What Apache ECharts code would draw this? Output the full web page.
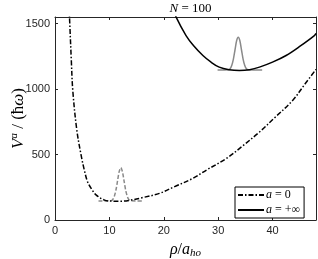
<!DOCTYPE html>
<html><head><meta charset="utf-8">
<script src="https://cdn.jsdelivr.net/npm/echarts@6/dist/echarts.min.js"></script>
<style>html,body{margin:0;padding:0;background:#fff}#c{width:318px;height:259px}</style>
</head><body><div id="c"></div>
<script>
// a = 0 curve (dash-dot)
const rho0 = [2.5, 2.67, 3.0, 3.27, 4.0, 4.8, 5.4, 6.0, 6.8, 7.6, 9.1, 10.5, 12.0, 13.7, 16.0, 19.2, 22.0, 25.3, 28.0, 31.5, 34.5, 37.6, 40.5, 43.7, 46.0, 48.0];
const V0   = [1700, 1545, 1220, 989, 690, 495, 380, 291, 232, 190, 152, 144, 143, 150, 170, 203, 255, 317, 385, 469, 565, 672, 785, 913, 1040, 1150];
// a = +inf curve (solid)
const rhoInf = [21.9, 22.3, 24.1, 25.5, 27.2, 28.7, 30.2, 32.0, 33.9, 35.8, 37.6, 40.0, 42.5, 45.0, 47.7, 48.0];
const VInf   = [1600, 1547, 1408, 1330, 1256, 1205, 1167, 1148, 1142, 1148, 1167, 1205, 1256, 1325, 1408, 1425];
// density profiles (grey)
const g1X = [8.0, 10.3, 10.6, 10.9, 11.2, 11.5, 11.8, 12.1, 12.4, 12.7, 13.0, 13.3, 13.6, 13.9, 16.0];
const g1V = [145, 147, 155, 180, 227, 298, 369, 400, 369, 298, 227, 180, 155, 147, 145];
const g2X = [29.9, 31.9, 32.2, 32.5, 32.8, 33.1, 33.4, 33.7, 34.0, 34.3, 34.6, 34.9, 35.2, 35.5, 38.1];
const g2V = [1145, 1147, 1155, 1180, 1227, 1298, 1369, 1395, 1369, 1298, 1227, 1180, 1155, 1147, 1145];
const xTicks = [0, 10, 20, 30, 40];
const yTicks = [0, 500, 1000, 1500];
const legendNames = ['a = 0', 'a = +∞'];

const zip = (a, b) => a.map((v, i) => [v, b[i]]);
const axCol = '#262626';
const serif = 'Liberation Serif';
const tickFont = {fontFamily: 'Liberation Sans', fontSize: 11, color: axCol};

const chart = echarts.init(document.getElementById('c'), null, {renderer: 'canvas'});
chart.setOption({
  animation: false,
  backgroundColor: '#fff',
  title: {
    text: '{i|N} = 100', left: 185.5, top: -3, textAlign: 'center',
    textStyle: {fontFamily: serif, fontSize: 13, fontWeight: 'normal', color: '#000',
      rich: {i: {fontFamily: serif, fontStyle: 'italic', fontSize: 13, color: '#000'}}}
  },
  grid: {left: 55, right: 2, top: 17, bottom: 39, containLabel: false, outerBoundsMode: 'none'},
  xAxis: [{
    type: 'value', min: 0, max: 48, interval: 10,
    axisLine: {show: true, onZero: false, lineStyle: {color: axCol, width: 1}},
    axisTick: {show: true, inside: true, length: 3, lineStyle: {color: axCol}},
    axisLabel: Object.assign({showMaxLabel: false, margin: 5, formatter: v => xTicks.includes(v) ? String(v) : ''}, tickFont),
    splitLine: {show: false},
    name: '{i|ρ}/{i|a}{s|ho}', nameLocation: 'middle', nameGap: 20, nameMoveOverlap: false,
    nameTextStyle: {fontFamily: serif, fontSize: 16, color: '#000',
      rich: {i: {fontFamily: serif, fontStyle: 'italic', fontSize: 16, color: '#000'},
             s: {fontFamily: serif, fontStyle: 'italic', fontSize: 11, color: '#000', verticalAlign: 'bottom', padding: [8, 0, 0, 0]}}}
  }, {
    type: 'value', min: 0, max: 48, interval: 10, position: 'top',
    axisLine: {show: true, onZero: false, lineStyle: {color: axCol, width: 1}},
    axisTick: {show: true, inside: true, length: 3, lineStyle: {color: axCol}},
    axisLabel: {show: false}, splitLine: {show: false}
  }],
  yAxis: [{
    type: 'value', min: 0, max: 1550, interval: 500,
    axisLine: {show: true, onZero: false, lineStyle: {color: axCol, width: 1}},
    axisTick: {show: true, inside: true, length: 3, lineStyle: {color: axCol}},
    axisLabel: Object.assign({showMaxLabel: false, margin: 5, formatter: v => yTicks.includes(v) ? String(v) : ''}, tickFont),
    splitLine: {show: false},
    name: '{i|V}{p|a} / (ħ{i|ω})', nameLocation: 'middle', nameGap: 26, nameRotate: 90, nameMoveOverlap: false,
    nameTextStyle: {fontFamily: serif, fontSize: 17, color: '#000',
      rich: {i: {fontFamily: serif, fontStyle: 'italic', fontSize: 17, color: '#000'},
             p: {fontFamily: serif, fontStyle: 'italic', fontSize: 11, color: '#000', verticalAlign: 'top', padding: [0, 0, 9, 0]}}}
  }, {
    type: 'value', min: 0, max: 1550, interval: 500, position: 'right',
    axisLine: {show: true, onZero: false, lineStyle: {color: axCol, width: 1}},
    axisTick: {show: true, inside: true, length: 3, lineStyle: {color: axCol}},
    axisLabel: {show: false}, splitLine: {show: false}
  }],
  legend: {
    data: legendNames, orient: 'vertical', left: 235, top: 187,
    itemWidth: 26, itemHeight: 10, itemGap: 3,
    padding: [2, 4, 2, 2], borderColor: '#000', borderWidth: 1, backgroundColor: '#fff',
    itemStyle: {color: 'rgba(0,0,0,0)', borderWidth: 0, opacity: 0},
    formatter: n => n === legendNames[0] ? '{i|a} = 0' : '{i|a} = +∞',
    textStyle: {fontFamily: serif, fontSize: 12, color: '#000', padding: [0, 0, 0, -3],
      rich: {i: {fontFamily: serif, fontStyle: 'italic', fontSize: 12, color: '#000'}}}
  },
  series: [
    {name: 'g1', type: 'line', data: zip(g1X, g1V), smooth: 0.3, symbol: 'none', silent: true,
     lineStyle: {color: '#8a8a8a', width: 1.5, type: [4, 2]}, itemStyle: {color: '#8a8a8a'}},
    {name: 'g2', type: 'line', data: zip(g2X, g2V), smooth: 0.3, symbol: 'none', silent: true,
     lineStyle: {color: '#8a8a8a', width: 1.5}, itemStyle: {color: '#8a8a8a'}},
    {name: legendNames[0], type: 'line', data: zip(rho0, V0), smooth: 0.35, symbol: 'none', clip: true,
     lineStyle: {color: '#000', width: 1.5, type: [5, 2, 1.5, 2]}, itemStyle: {color: '#000'}},
    {name: legendNames[1], type: 'line', data: zip(rhoInf, VInf), smooth: 0.35, symbol: 'none', clip: true,
     lineStyle: {color: '#000', width: 1.5}, itemStyle: {color: '#000'}}
  ]
});
</script></body></html>
